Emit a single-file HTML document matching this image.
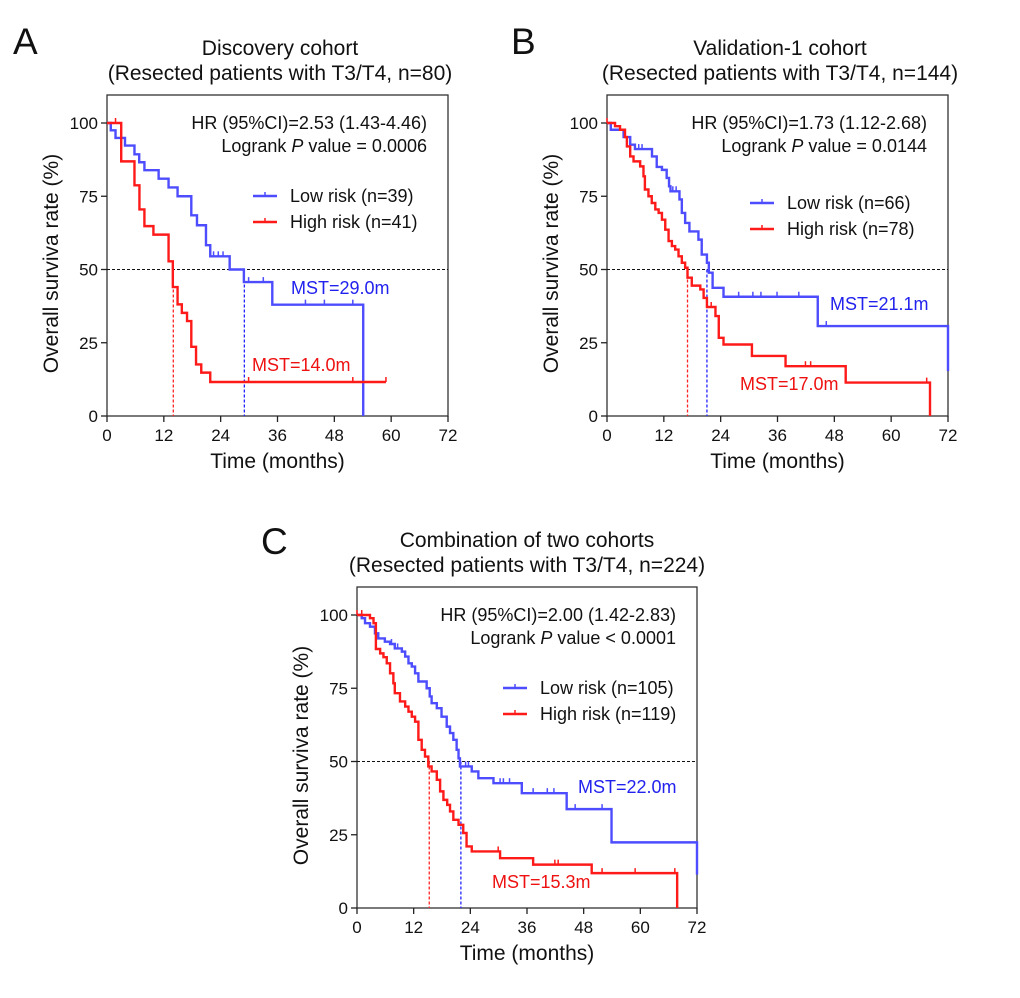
<!DOCTYPE html>
<html><head><meta charset="utf-8"><style>
body{margin:0;background:#fff}
svg{display:block;font-family:"Liberation Sans",Arial,sans-serif}
</style></head><body>
<svg id="fig" width="1020" height="998" viewBox="0 0 1020 998" xmlns="http://www.w3.org/2000/svg"></svg>
<script>
// ---- Panel A data ----
const aLowT=[0,0.8,1.8,3.8,5.8,6.8,7.9,10.9,13.0,14.9,17.8,19.0,20.9,21.8,25.9,28.9,34.9,54.1];
const aLowS=[100,97.5,94.9,92.3,89.3,86.6,83.9,81,78,75,68.5,65.1,58.3,54.5,50,45.7,38,0];
const aLowEnd=54.1;
const aLowCensT=[22.5,23.5,24.5,29.9,33,41.9,45.9,51.9];
const aHighT=[0,3.0,5.8,6.85,7.9,9.8,13.0,13.9,14.9,15.8,16.9,17.8,18.8,19.9,21.8];
const aHighS=[100,86.9,78.75,70.5,64.8,61.9,52.8,44.0,38.1,35.2,32.4,23.6,17.6,14.8,11.6];
const aHighEnd=58.9;
const aHighCensT=[1.8,29.9,51.9,58.9];
// ---- Panel B data ----
const bLowT=[0,0.8,3.5,4.9,5.9,9.5,10.5,11.6,12.6,13.1,13.4,15.3,15.8,16.5,17.4,19.3,20.0,21.1,21.5,22.3,24.6,44.5,72];
const bLowS=[100,97.7,95.2,92.6,91.1,88.6,85,84,81.25,78.4,76.7,73.9,69.3,65.9,63,60.2,55.1,52.3,48.9,43.75,40.7,30.7,15.3];
const bLowEnd=72;
const bLowCensT=[6.7,7.4,13.9,14.6,27.8,30.8,32.5,35.9,40.5,46.3];
const bHighT=[0,1.7,2.75,3.8,4.2,4.9,5.6,7.0,7.7,8.0,8.75,9.45,10.2,10.9,11.6,12.3,13.0,13.7,14.4,15.1,15.8,16.5,17.0,17.9,19.7,20.4,21.1,22.9,23.6,24.6,30.6,37.7,50.4,68.2];
const bHighS=[100,98.9,97.7,95.2,92,88.6,86.9,85.2,81.8,77.3,75,72.7,70.5,69.3,67,63.6,59.7,58,56.8,54.5,52.3,50.6,47.2,44.5,43.2,40.3,37.2,34.1,26.7,24.4,20.5,17,11.4,0];
const bHighEnd=68.2;
const bHighCensT=[0,22.0,41.9,43.0,67.5];
// ---- Panel C data ----
const cLowT=[0,1.0,1.7,2.75,3.8,4.5,5.9,7.0,8.0,9.5,10.2,10.9,11.6,12.3,13.0,14.75,15.4,15.8,16.9,17.9,19.0,19.7,20.4,21.1,21.5,21.8,24.3,25.7,28.9,34.9,44.4,53.9,72];
const cLowS=[100,98.9,97.2,96,93.75,92,90.9,90.1,88.6,87.5,85.8,83.5,82.4,80.1,77.3,75,72.2,69.9,68.2,65.3,61.9,59.7,57.4,54,51.1,48.3,46.6,44.3,42.6,39.2,33.75,22.4,11.4];
const cLowEnd=72;
const cLowCensT=[7.3,8.6,23.0,23.6,30.3,31.0,32.3,37.3,40.3,41.7,46.2,51.9];
const cHighT=[0,2.75,3.5,4.0,4.9,5.6,6.3,7.0,7.7,8.0,9.1,10.2,10.9,11.6,12.3,13.0,13.7,14.4,15.1,15.8,16.9,17.6,18.3,19.1,19.7,20.4,21.5,22.5,23.2,24.3,30.3,37.3,49.7,67.8];
const cHighS=[100,98.9,97.2,88.4,86.9,85.6,83.5,80.1,76.7,73.3,70.5,68.75,67,65.3,63.6,57.4,54,51.7,48.3,46.6,43.75,39.8,36.9,35.2,32.95,30.1,28.4,25.6,21,19.3,17,14.8,11.9,0];
const cHighEnd=67.8;
const cHighCensT=[0,1.0,29.9,41.9,42.6,51.9,58.9,67.3];
const xTicks=[0,12,24,36,48,60,72];
const yTicks=[0,25,50,75,100];

const NS="http://www.w3.org/2000/svg";
const svg=document.getElementById('fig');
function mk(tag,attrs,parent,text){const e=document.createElementNS(NS,tag);for(const k in attrs)e.setAttribute(k,attrs[k]);if(text!==undefined)e.textContent=text;(parent||svg).appendChild(e);return e;}
function survAt(T,S,t){let v=S[0];for(let i=0;i<T.length;i++){if(T[i]<=t)v=S[i];}return v;}

function panel(p){
  const g=mk('g',{});
  
  
  const X=t=>p.x0+(t/72)*(p.x1-p.x0);
  const Y=s=>p.y0-(s/100)*(p.y0-p.y100);
  const fr=mk('rect',{x:p.x0,y:p.top,width:p.x1-p.x0,height:p.y0-p.top,fill:'none',stroke:'#333','stroke-width':1.3},g);
  
  
  xTicks.forEach(t=>{
    mk('line',{x1:X(t),x2:X(t),y1:p.y0,y2:p.y0+6,stroke:'#222','stroke-width':1.3},g);
    const tl=mk('text',{x:X(t),y:p.y0+25,'font-size':17,'text-anchor':'middle',fill:'#111'},g,String(t));
    
    
  });
  yTicks.forEach(s=>{
    mk('line',{x1:p.x0-6,x2:p.x0,y1:Y(s),y2:Y(s),stroke:'#222','stroke-width':1.3},g);
    const tl=mk('text',{x:p.x0-9,y:Y(s)+6,'font-size':17,'text-anchor':'end',fill:'#111'},g,String(s));
    
    
  });
  const ml=mk('line',{x1:p.x0,x2:p.x1,y1:Y(50),y2:Y(50),stroke:'#111','stroke-width':1,'stroke-dasharray':'3,2'},g);
  
  
  const mh=mk('line',{x1:X(p.mstHigh),x2:X(p.mstHigh),y1:Y(50),y2:p.y0,stroke:'#f22','stroke-width':1.3,'stroke-dasharray':'3,2'},g);
  
  
  const mlw=mk('line',{x1:X(p.mstLow),x2:X(p.mstLow),y1:Y(50),y2:p.y0,stroke:'#22f','stroke-width':1.3,'stroke-dasharray':'3,2'},g);
  
  
  function curve(T,S,end,cens,color,name){
    let d='M'+X(T[0])+','+Y(S[0]);
    for(let i=1;i<T.length;i++){d+='H'+X(T[i])+'V'+Y(S[i]);}
    d+='H'+X(end);
    const c=mk('path',{d:d,fill:'none',stroke:color,'stroke-width':2.4},g);
    
    
    cens.forEach(t=>{
      const y=Y(survAt(T,S,t));
      const m=mk('line',{x1:X(t),x2:X(t),y1:y-5,y2:y,stroke:color,'stroke-width':1.5},g);
      
      
    });
  }
  curve(p.lowT,p.lowS,p.lowEnd,p.lowC,'#4d4dff','low-risk');
  curve(p.highT,p.highS,p.highEnd,p.highC,'#ff1a1a','high-risk');
  function txt(x,y,s,opts,name){const t=mk('text',Object.assign({x:x,y:y,'font-size':18,fill:'#111'},opts||{}),g);t.innerHTML=s;return t;}
  txt(p.letterX,p.letterY,p.letter,{'font-size':37},'panel-letter');
  txt(p.titleX,p.titleY,p.title1,{'font-size':21,'text-anchor':'middle'},'chart-title');
  txt(p.titleX,p.titleY+25,p.title2,{'font-size':21,'text-anchor':'middle'},'chart-subtitle');
  txt(p.x1-21,p.y100+6,p.hr,{'text-anchor':'end'},'hazard-ratio-text');
  txt(p.x1-21,p.y100+29,p.pv,{'text-anchor':'end'},'logrank-p-text');
  const lg=mk('g',{},g);
  
  
  [[p.legLow,'#4d4dff',0],[p.legHigh,'#ff1a1a',26]].forEach(([lab,col,dy])=>{
    const y=p.legY+dy;
    mk('line',{x1:p.legX,x2:p.legX+24,y1:y,y2:y,stroke:col,'stroke-width':2.4},lg);
    mk('line',{x1:p.legX+12,x2:p.legX+12,y1:y-4,y2:y,stroke:col,'stroke-width':1.5},lg);
    const t=mk('text',{x:p.legX+37,y:y+6,'font-size':18,fill:'#111'},lg,lab);
    
    
  });
  txt(p.mstLowX,p.mstLowY,p.mstLowLab,{fill:'#2222ee'},'low-risk-mst-label');
  txt(p.mstHighX,p.mstHighY,p.mstHighLab,{fill:'#ee1111'},'high-risk-mst-label');
  txt((p.x0+p.x1)/2,p.y0+52,'Time (months)',{'font-size':21,'text-anchor':'middle'},'x-axis-title');
  const yc=(p.y0+p.top)/2+8;
  txt(0,0,'Overall surviva rate (%)',{'font-size':21,'text-anchor':'middle',transform:'translate('+(p.x0-49)+','+yc+') rotate(-90)'},'y-axis-title');
}

panel({id:'a',x0:107,x1:448,y0:416,y100:123,top:95,letter:'A',letterX:13,letterY:54,titleX:280,titleY:55,
 title1:'Discovery cohort',title2:'(Resected patients with T3/T4, n=80)',
 hr:'HR (95%CI)=2.53 (1.43-4.46)',pv:'Logrank <tspan font-style="italic">P</tspan> value = 0.0006',
 lowT:aLowT,lowS:aLowS,lowEnd:aLowEnd,lowC:aLowCensT,highT:aHighT,highS:aHighS,highEnd:aHighEnd,highC:aHighCensT,
 mstLow:29.0,mstHigh:14.0,legX:253,legY:196,legLow:'Low risk (n=39)',legHigh:'High risk (n=41)',
 mstLowX:291,mstLowY:294,mstLowLab:'MST=29.0m',mstHighX:252,mstHighY:371,mstHighLab:'MST=14.0m'});
panel({id:'b',x0:607,x1:948,y0:416,y100:123,top:95,letter:'B',letterX:511,letterY:54,titleX:780,titleY:55,
 title1:'Validation-1 cohort',title2:'(Resected patients with T3/T4, n=144)',
 hr:'HR (95%CI)=1.73 (1.12-2.68)',pv:'Logrank <tspan font-style="italic">P</tspan> value = 0.0144',
 lowT:bLowT,lowS:bLowS,lowEnd:bLowEnd,lowC:bLowCensT,highT:bHighT,highS:bHighS,highEnd:bHighEnd,highC:bHighCensT,
 mstLow:21.1,mstHigh:17.0,legX:750,legY:203,legLow:'Low risk (n=66)',legHigh:'High risk (n=78)',
 mstLowX:830,mstLowY:310,mstLowLab:'MST=21.1m',mstHighX:740,mstHighY:390,mstHighLab:'MST=17.0m'});
panel({id:'c',x0:357,x1:697,y0:908,y100:615,top:587,letter:'C',letterX:261,letterY:554,titleX:527,titleY:547,
 title1:'Combination of two cohorts',title2:'(Resected patients with T3/T4, n=224)',
 hr:'HR (95%CI)=2.00 (1.42-2.83)',pv:'Logrank <tspan font-style="italic">P</tspan> value &lt; 0.0001',
 lowT:cLowT,lowS:cLowS,lowEnd:cLowEnd,lowC:cLowCensT,highT:cHighT,highS:cHighS,highEnd:cHighEnd,highC:cHighCensT,
 mstLow:22.0,mstHigh:15.3,legX:503,legY:688,legLow:'Low risk (n=105)',legHigh:'High risk (n=119)',
 mstLowX:578,mstLowY:793,mstLowLab:'MST=22.0m',mstHighX:492,mstHighY:888,mstHighLab:'MST=15.3m'});
</script>
</body></html>
